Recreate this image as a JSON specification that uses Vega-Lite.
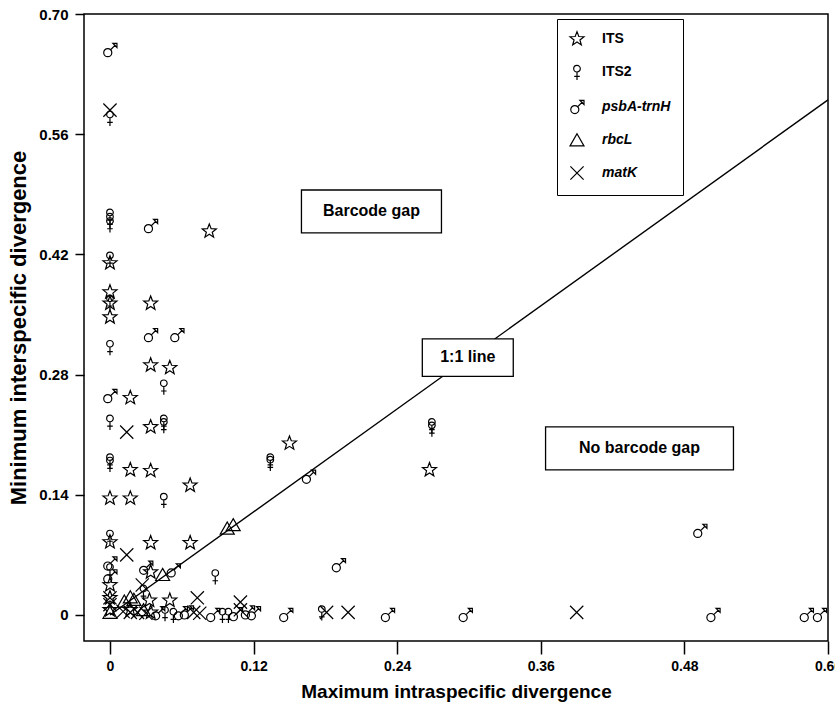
{
  "$schema": "https://vega.github.io/schema/vega-lite/v6.json",
  "width": 744,
  "height": 627,
  "autosize": {"type": "none"},
  "padding": {"left": 84, "top": 14, "right": 7, "bottom": 68},
  "background": "white",
  "config": {
    "view": {"stroke": "black", "strokeWidth": 1.5},
    "font": "Liberation Sans",
    "axis": {"grid": false, "domain": false, "tickColor": "black", "tickWidth": 1.5, "labelColor": "black", "labelFont": "Liberation Sans", "labelFontWeight": "bold", "titleFont": "Liberation Sans", "titleFontWeight": "bold", "titleColor": "black"},
    "axisX": {"tickSize": 13, "labelPadding": 5, "labelFontSize": 14, "titleFontSize": 19, "titlePadding": 9, "labelFlush": false},
    "axisY": {"tickSize": 9, "labelPadding": 7, "labelFontSize": 15, "titleFontSize": 22, "titlePadding": 8}
  },
  "datasets": {
    "points": [
      {"marker": "ITS", "x": 0, "y": 0.376},
      {"marker": "ITS", "x": 0, "y": 0.363},
      {"marker": "ITS", "x": 0, "y": 0.347},
      {"marker": "ITS", "x": 0, "y": 0.41},
      {"marker": "ITS", "x": 0, "y": 0.136},
      {"marker": "ITS", "x": 0, "y": 0.085},
      {"marker": "ITS", "x": 0, "y": 0.035},
      {"marker": "ITS", "x": 0, "y": 0.02},
      {"marker": "ITS", "x": 0, "y": 0.006},
      {"marker": "ITS", "x": 0.017, "y": 0.253},
      {"marker": "ITS", "x": 0.017, "y": 0.169},
      {"marker": "ITS", "x": 0.017, "y": 0.136},
      {"marker": "ITS", "x": 0.017, "y": 0.006},
      {"marker": "ITS", "x": 0.034, "y": 0.363},
      {"marker": "ITS", "x": 0.034, "y": 0.291},
      {"marker": "ITS", "x": 0.034, "y": 0.219},
      {"marker": "ITS", "x": 0.034, "y": 0.168},
      {"marker": "ITS", "x": 0.034, "y": 0.084},
      {"marker": "ITS", "x": 0.034, "y": 0.05},
      {"marker": "ITS", "x": 0.033, "y": 0.017},
      {"marker": "ITS", "x": 0.034, "y": 0.003},
      {"marker": "ITS", "x": 0.05, "y": 0.288},
      {"marker": "ITS", "x": 0.05, "y": 0.017},
      {"marker": "ITS", "x": 0.067, "y": 0.151},
      {"marker": "ITS", "x": 0.067, "y": 0.084},
      {"marker": "ITS", "x": 0.083, "y": 0.447},
      {"marker": "ITS", "x": 0.15, "y": 0.2},
      {"marker": "ITS", "x": 0.267, "y": 0.169},
      {"marker": "ITS2", "x": 0, "y": 0.579},
      {"marker": "ITS2", "x": 0, "y": 0.465},
      {"marker": "ITS2", "x": 0, "y": 0.46},
      {"marker": "ITS2", "x": 0, "y": 0.455},
      {"marker": "ITS2", "x": 0, "y": 0.415},
      {"marker": "ITS2", "x": 0, "y": 0.365},
      {"marker": "ITS2", "x": 0, "y": 0.312},
      {"marker": "ITS2", "x": 0, "y": 0.225},
      {"marker": "ITS2", "x": 0, "y": 0.18},
      {"marker": "ITS2", "x": 0, "y": 0.176},
      {"marker": "ITS2", "x": 0, "y": 0.091},
      {"marker": "ITS2", "x": 0, "y": 0.052},
      {"marker": "ITS2", "x": 0.045, "y": 0.266},
      {"marker": "ITS2", "x": 0.045, "y": 0.225},
      {"marker": "ITS2", "x": 0.045, "y": 0.221},
      {"marker": "ITS2", "x": 0.045, "y": 0.134},
      {"marker": "ITS2", "x": 0.088, "y": 0.045},
      {"marker": "ITS2", "x": 0.134, "y": 0.18},
      {"marker": "ITS2", "x": 0.134, "y": 0.177},
      {"marker": "ITS2", "x": 0.269, "y": 0.221},
      {"marker": "ITS2", "x": 0.269, "y": 0.217},
      {"marker": "ITS2", "x": 0.028, "y": 0.027},
      {"marker": "ITS2", "x": 0.046, "y": 0.002},
      {"marker": "ITS2", "x": 0.053, "y": 0},
      {"marker": "ITS2", "x": 0.094, "y": 0},
      {"marker": "ITS2", "x": 0.099, "y": 0},
      {"marker": "ITS2", "x": 0.177, "y": 0.003},
      {"marker": "psbA-trnH", "x": 0, "y": 0.658},
      {"marker": "psbA-trnH", "x": 0, "y": 0.255},
      {"marker": "psbA-trnH", "x": 0, "y": 0.06},
      {"marker": "psbA-trnH", "x": 0, "y": 0.045},
      {"marker": "psbA-trnH", "x": 0.034, "y": 0.453},
      {"marker": "psbA-trnH", "x": 0.034, "y": 0.326},
      {"marker": "psbA-trnH", "x": 0.056, "y": 0.326},
      {"marker": "psbA-trnH", "x": 0.03, "y": 0.055},
      {"marker": "psbA-trnH", "x": 0.053, "y": 0.052},
      {"marker": "psbA-trnH", "x": 0.166, "y": 0.161},
      {"marker": "psbA-trnH", "x": 0.191, "y": 0.058},
      {"marker": "psbA-trnH", "x": 0.493, "y": 0.098},
      {"marker": "psbA-trnH", "x": 0.04, "y": 0.002},
      {"marker": "psbA-trnH", "x": 0.059, "y": 0.002},
      {"marker": "psbA-trnH", "x": 0.064, "y": 0.003},
      {"marker": "psbA-trnH", "x": 0.086, "y": 0},
      {"marker": "psbA-trnH", "x": 0.105, "y": 0.001},
      {"marker": "psbA-trnH", "x": 0.115, "y": 0.003},
      {"marker": "psbA-trnH", "x": 0.12, "y": 0.002},
      {"marker": "psbA-trnH", "x": 0.147, "y": 0},
      {"marker": "psbA-trnH", "x": 0.232, "y": 0},
      {"marker": "psbA-trnH", "x": 0.297, "y": 0},
      {"marker": "psbA-trnH", "x": 0.504, "y": 0},
      {"marker": "psbA-trnH", "x": 0.582, "y": 0},
      {"marker": "psbA-trnH", "x": 0.593, "y": 0},
      {"marker": "rbcL", "x": 0.098, "y": 0.101},
      {"marker": "rbcL", "x": 0.103, "y": 0.105},
      {"marker": "rbcL", "x": 0.044, "y": 0.047},
      {"marker": "rbcL", "x": 0.017, "y": 0.021},
      {"marker": "rbcL", "x": 0.012, "y": 0.016},
      {"marker": "rbcL", "x": 0.02, "y": 0.018},
      {"marker": "rbcL", "x": 0, "y": 0.003},
      {"marker": "rbcL", "x": 0.028, "y": 0.006},
      {"marker": "matK", "x": 0, "y": 0.588},
      {"marker": "matK", "x": 0.014, "y": 0.213},
      {"marker": "matK", "x": 0.014, "y": 0.07},
      {"marker": "matK", "x": 0.027, "y": 0.035},
      {"marker": "matK", "x": 0.073, "y": 0.02},
      {"marker": "matK", "x": 0.109, "y": 0.015},
      {"marker": "matK", "x": 0.109, "y": 0.006},
      {"marker": "matK", "x": 0, "y": 0.02},
      {"marker": "matK", "x": 0, "y": 0.012},
      {"marker": "matK", "x": 0.011, "y": 0.004},
      {"marker": "matK", "x": 0.017, "y": 0.003},
      {"marker": "matK", "x": 0.023, "y": 0.003},
      {"marker": "matK", "x": 0.03, "y": 0.002},
      {"marker": "matK", "x": 0.07, "y": 0.003},
      {"marker": "matK", "x": 0.075, "y": 0.002},
      {"marker": "matK", "x": 0.181, "y": 0.003},
      {"marker": "matK", "x": 0.199, "y": 0.003},
      {"marker": "matK", "x": 0.39, "y": 0.003}
    ],
    "line": [{"x": 0, "y": 0}, {"x": 0.6, "y": 0.6}],
    "boxes": [
      {"label": "Barcode gap", "x": 0.16, "x2": 0.277, "y": 0.445, "y2": 0.495, "tx": 0.2185, "ty": 0.47},
      {"label": "1:1 line", "x": 0.261, "x2": 0.337, "y": 0.278, "y2": 0.3215, "tx": 0.299, "ty": 0.3},
      {"label": "No barcode gap", "x": 0.364, "x2": 0.521, "y": 0.169, "y2": 0.219, "tx": 0.4425, "ty": 0.194}
    ]
  },
  "encoding": {
    "x": {"field": "x", "type": "quantitative", "title": "Maximum intraspecific divergence",
      "scale": {"domain": [-0.0217, 0.6], "nice": false, "zero": false},
      "axis": {"values": [0, 0.12, 0.24, 0.36, 0.48, 0.6], "labelExpr": "datum.value == 0 ? '0' : format(datum.value, '.2f')"}},
    "y": {"field": "y", "type": "quantitative", "title": "Minimum interspecific divergence",
      "scale": {"domain": [-0.0303, 0.7], "nice": false, "zero": false},
      "axis": {"values": [0, 0.14, 0.28, 0.42, 0.56, 0.7], "labelExpr": "datum.value == 0 ? '0' : format(datum.value, '.2f')"}}
  },
  "layer": [
    {"data": {"name": "line"}, "mark": {"type": "line", "color": "black", "strokeWidth": 1.4}, "encoding": {}},
    {"data": {"name": "boxes"}, "mark": {"type": "rect", "fill": "white", "stroke": "black", "strokeWidth": 1.3},
      "encoding": {"x2": {"field": "x2"}, "y2": {"field": "y2"}}},
    {"data": {"name": "boxes"}, "mark": {"type": "text", "font": "Liberation Sans", "fontWeight": "bold", "fontSize": 16, "color": "black", "align": "center", "baseline": "middle"},
      "encoding": {
        "x": {"field": "tx", "type": "quantitative", "title": "Maximum intraspecific divergence", "scale": {"domain": [-0.0217, 0.6], "nice": false, "zero": false}},
        "y": {"field": "ty", "type": "quantitative", "title": "Minimum interspecific divergence", "scale": {"domain": [-0.0303, 0.7], "nice": false, "zero": false}},
        "text": {"field": "label"}}},
    {"data": {"name": "points"}, "mark": {"type": "point", "filled": false, "color": "black", "strokeWidth": 1.2, "size": 216, "opacity": 1},
      "encoding": {
        "shape": {"field": "marker", "type": "nominal",
          "scale": {"domain": ["ITS", "ITS2", "psbA-trnH", "rbcL", "matK"],
            "range": [
              "M0,-1L0.247,-0.34L0.951,-0.309L0.399,0.13L0.588,0.809L0,0.42L-0.588,0.809L-0.399,0.13L-0.951,-0.309L-0.247,-0.34Z",
              "M0.45,-0.45A0.45,0.45,0,1,1,-0.45,-0.45A0.45,0.45,0,1,1,0.45,-0.45ZM0,0L0,1.1M-0.38,0.6L0.38,0.6",
              "M0.25,0.35A0.55,0.55,0,1,1,-0.85,0.35A0.55,0.55,0,1,1,0.25,0.35ZM0.09,-0.04L0.75,-0.7M0.4,-0.9L0.95,-0.9L0.95,-0.35Z",
              "M0,-0.85L0.95,0.8L-0.95,0.8Z",
              "M-0.9,-0.9L0.9,0.9M-0.9,0.9L0.9,-0.9"
            ]},
          "legend": {"title": null, "orient": "none", "legendX": 473, "legendY": 5, "strokeColor": "black", "fillColor": "white", "padding": 12, "rowPadding": 14, "labelOffset": 17, "symbolSize": 216, "symbolStrokeColor": "black", "symbolStrokeWidth": 1.2, "labelFont": "Liberation Sans", "labelFontWeight": "bold", "labelFontSize": 14, "labelColor": "black",
            "labelFontStyle": {"expr": "(datum.label == 'ITS' || datum.label == 'ITS2') ? 'normal' : 'italic'"}}
        }}}
  ]
}
